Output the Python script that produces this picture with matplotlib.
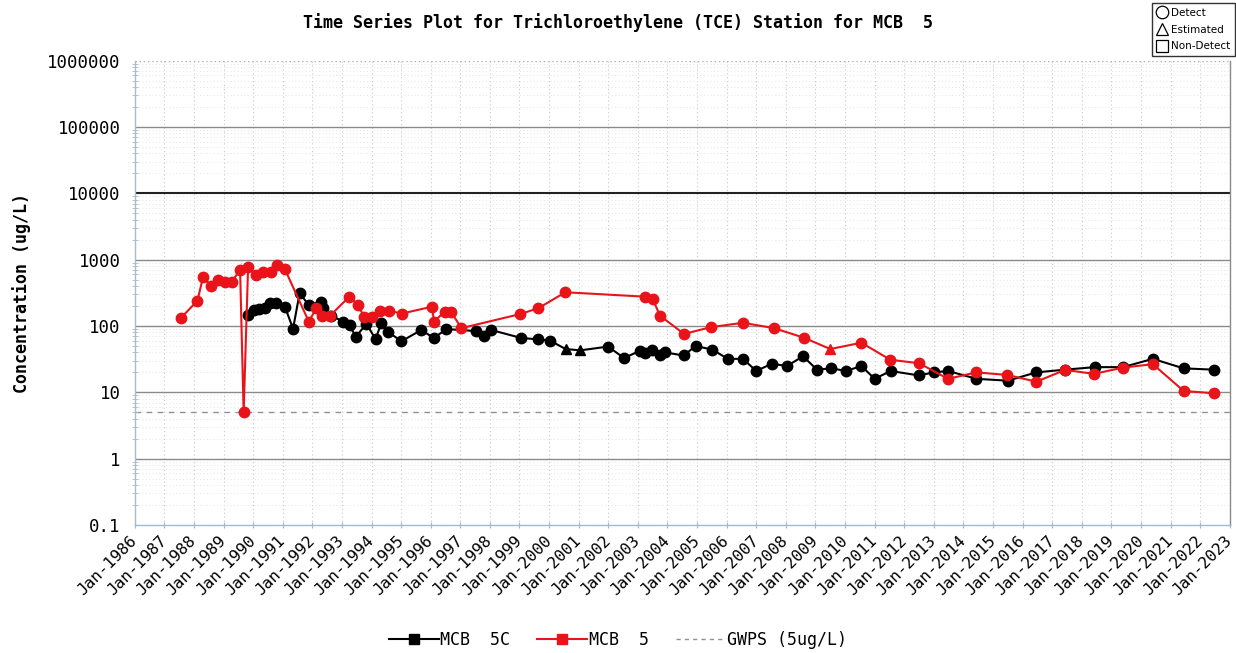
import matplotlib
matplotlib.use("Agg")
import matplotlib.pyplot as plt
from matplotlib.lines import Line2D
import numpy as np

# ---------------- data ----------------
mcb5c_year = [1989.82, 1990.04, 1990.19, 1990.39, 1990.58, 1990.79, 1991.07, 1991.35, 1991.57, 1991.88,
              1992.28, 1992.37, 1992.64, 1993.04, 1993.26, 1993.47, 1993.83, 1994.14, 1994.33, 1994.55,
              1995.01, 1995.68, 1996.11, 1996.53, 1997.52, 1997.79, 1998.05, 1999.06, 1999.63, 2000.04,
              2000.56, 2001.06, 2001.99, 2002.53, 2003.06, 2003.25, 2003.49, 2003.74, 2003.91, 2004.55,
              2004.95, 2005.52, 2006.04, 2006.55, 2007.00, 2007.52, 2008.04, 2008.58, 2009.05, 2009.54,
              2010.04, 2010.55, 2011.00, 2011.54, 2012.49, 2013.00, 2013.48, 2014.44, 2015.50, 2016.46,
              2017.44, 2018.43, 2019.39, 2020.40, 2021.44, 2022.45]
mcb5c_val = [147, 175, 179, 185, 220, 225, 197, 91, 312, 208,
             233, 185, 143, 117, 102, 69, 108, 63, 112, 82,
             59, 87, 66, 90, 84, 70, 87, 66, 63, 60,
             45, 43, 49, 33, 42, 39, 44, 36, 40, 36,
             50, 44, 32, 32, 21, 27, 25, 35, 22, 23,
             21, 25, 16, 21, 18, 20, 21, 16, 15, 20,
             22, 24, 24, 32, 23, 22]
mcb5c_flag = ["D"] * 30 + ["E", "E"] + ["D"] * 34

mcb5_year = [1987.55, 1988.12, 1988.31, 1988.57, 1988.82, 1989.06, 1989.28, 1989.56, 1989.68, 1989.83,
             1990.11, 1990.33, 1990.62, 1990.81, 1991.07, 1991.88, 1992.14, 1992.32, 1992.59, 1993.25,
             1993.53, 1993.75, 1994.01, 1994.29, 1994.58, 1995.02, 1996.05, 1996.11, 1996.47, 1996.68,
             1997.04, 1999.01, 1999.63, 2000.55, 2003.25, 2003.51, 2003.74, 2004.56, 2005.46, 2006.55,
             2007.59, 2008.60, 2009.50, 2010.55, 2011.53, 2012.50, 2013.48, 2014.44, 2015.48, 2016.46,
             2017.44, 2018.41, 2019.39, 2020.40, 2021.44, 2022.45]
mcb5_val = [131, 241, 554, 402, 494, 467, 467, 700, 5, 769,
            589, 659, 646, 832, 724, 117, 185, 142, 142, 277,
            211, 139, 135, 171, 171, 154, 196, 116, 165, 165,
            93, 151, 185, 323, 277, 253, 144, 76, 96, 112,
            93, 67, 45, 56, 31, 27.5, 16, 20, 18.3, 14.5,
            21.8, 19, 23.6, 26.6, 10.5, 9.7]
mcb5_flag = ["D"] * 42 + ["E"] + ["D"] * 13

gwps = 5
years = list(range(1986, 2024))
year_labels = [f"Jan-{y}" for y in years]
y_ticks = [0.1, 1, 10, 100, 1000, 10000, 100000, 1000000]
y_labels = ["0.1", "1", "10", "100", "1000", "10000", "100000", "1000000"]

title = "Time Series Plot for Trichloroethylene (TCE) Station for MCB  5"
ylabel = "Concentration (ug/L)"

# ---------------- figure ----------------
mono = "DejaVu Sans Mono"
fig = plt.figure(figsize=(12.36, 6.53), dpi=100)
ax = fig.add_axes([0.109, 0.196, 0.886, 0.711])
ax.set_yscale("log")
ax.set_xlim(1986, 2023)
ax.set_ylim(0.1, 1e6)

# grid
for y in years:
    ax.axvline(y, color="#c8c8c8", lw=0.8, ls=(0, (1, 2.5)), zorder=0)
for dec in range(-1, 6):
    for m in range(2, 10):
        ax.axhline(m * 10.0 ** dec, color="#e4e4e4", lw=0.7, ls=(0, (1, 2.5)), zorder=0)
for v in [1, 10, 100, 1000, 100000]:
    ax.axhline(v, color="#8a8a8a", lw=1.0, zorder=0.5)
ax.axhline(10000, color="#222222", lw=1.5, zorder=0.5)
ax.axhline(1e6, color="#b0b0b0", lw=1.0, ls=(0, (1, 2)), zorder=0.5)

# GWPS
ax.axhline(gwps, color="#909090", lw=1.0, ls=(0, (4, 4)), zorder=1)

def draw(xs, vs, flags, color, z):
    ax.plot(xs, vs, color=color, lw=1.5, zorder=z)
    xs = np.array(xs); vs = np.array(vs); fl = np.array(flags)
    d = fl == "D"; e = fl == "E"
    ax.plot(xs[d], vs[d], ls="none", marker="o", ms=7.5, color=color, zorder=z + 0.1)
    ax.plot(xs[e], vs[e], ls="none", marker="^", ms=7.5, color=color, zorder=z + 0.1)

draw(mcb5c_year, mcb5c_val, mcb5c_flag, "black", 3)
draw(mcb5_year, mcb5_val, mcb5_flag, "#e8141a", 4)

# axes styling
ax.spines["top"].set_visible(False)
ax.spines["right"].set_color("#8a8a8a")
ax.spines["right"].set_linewidth(1.0)
ax.spines["left"].set_color("#a9bccb")
ax.spines["bottom"].set_color("#9dbbd0")
ax.spines["left"].set_linewidth(1.0)
ax.spines["bottom"].set_linewidth(1.0)

ax.set_xticks(years)
ax.set_xticklabels(year_labels, rotation=45, ha="right", va="center",
                   rotation_mode="anchor", fontfamily=mono, fontsize=11.5)
ax.tick_params(axis="x", which="major", direction="inout", length=5, color="#9dbbd0", pad=7)
ax.set_yticks(y_ticks)
ax.set_yticklabels(y_labels, fontfamily=mono, fontsize=12.5)
ax.yaxis.set_minor_locator(matplotlib.ticker.LogLocator(base=10, subs=np.arange(2, 10)))
ax.yaxis.set_minor_formatter(matplotlib.ticker.NullFormatter())
ax.tick_params(axis="y", which="major", length=0, pad=10)
ax.tick_params(axis="y", which="minor", direction="inout", length=4, color="#a9bccb")

ax.set_ylabel(ylabel, fontfamily=mono, fontsize=12, fontweight="bold", labelpad=12)
fig.text(0.5, 0.966, title, ha="center", va="center", fontfamily=mono,
         fontsize=12, fontweight="bold")

# bottom legend
h1 = Line2D([], [], color="black", lw=1.5, marker="s", ms=7)
h2 = Line2D([], [], color="#e8141a", lw=1.5, marker="s", ms=7)
h3 = Line2D([], [], color="#909090", lw=1.0, ls=(0, (3, 3)))
fig.legend([h1, h2, h3], ["MCB  5C", "MCB  5", "GWPS (5ug/L)"], loc="center",
           bbox_to_anchor=(0.5, 0.02), ncol=3, frameon=False, handlelength=3.0,
           handletextpad=0.1, columnspacing=1.6, prop={"family": mono, "size": 12})

# symbol legend (top right)
s1 = Line2D([], [], ls="none", marker="o", ms=9, mfc="none", mec="black", mew=0.9)
s2 = Line2D([], [], ls="none", marker="^", ms=9, mfc="none", mec="black", mew=0.9)
s3 = Line2D([], [], ls="none", marker="s", ms=9, mfc="none", mec="black", mew=0.9)
fig.legend([s1, s2, s3], ["Detect", "Estimated", "Non-Detect"], loc="upper right",
           bbox_to_anchor=(0.999, 0.995), frameon=True, fancybox=False, edgecolor="black",
           handlelength=1.2, handletextpad=0.2, labelspacing=0.65, borderpad=0.45,
           borderaxespad=0.0, prop={"family": "DejaVu Sans", "size": 7.5})

fig.savefig("out.png", dpi=100)
